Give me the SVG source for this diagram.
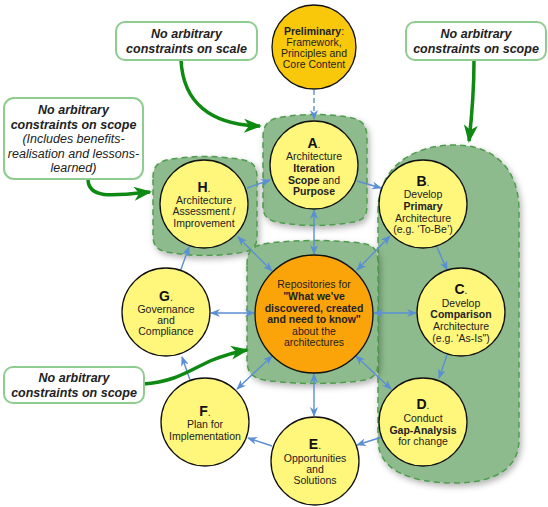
<svg xmlns="http://www.w3.org/2000/svg" width="548" height="507" viewBox="0 0 548 507">
<defs>
  <filter id="sh" x="-20%" y="-20%" width="140%" height="140%">
    <feDropShadow dx="2" dy="3" stdDeviation="3" flood-color="#000" flood-opacity="0.3"/>
  </filter>
  <marker id="ba" viewBox="0 0 10 8" refX="9" refY="4" markerWidth="10" markerHeight="8" markerUnits="userSpaceOnUse" orient="auto-start-reverse">
    <path d="M0,0 L10,4 L0,8 L3,4 Z" fill="#5b8fd4"/>
  </marker>
  <marker id="ga" viewBox="0 0 18 14" refX="16" refY="7" markerWidth="18" markerHeight="14" markerUnits="userSpaceOnUse" orient="auto">
    <path d="M0,0 L18,7 L0,14 L5,7 Z" fill="#0e8a12"/>
  </marker>
  <style>
    .reg{fill:#8dbb8d;stroke:#4f9c4f;stroke-width:1.5;stroke-dasharray:6 4;filter:url(#sh)}
    .nd{fill:#fff67c;stroke:#111;stroke-width:1.3}
    .pre{fill:#f9c80a;stroke:#111;stroke-width:1.3}
    .ctr{fill:#fba40a;stroke:#111;stroke-width:1.3}
    text{font-family:"Liberation Sans",Arial,Helvetica,sans-serif;fill:#222;text-anchor:middle}
    .t{font-size:10.5px}
    .b{font-weight:bold}
    .L{font-weight:bold;font-size:14px;fill:#111}
    .co{fill:#fff;stroke:#8fcc8f;stroke-width:2}
    .ct{font-size:12.5px;font-style:italic}
    .blue{fill:none;stroke:#5b8fd4;stroke-width:1.4}
    .grn{fill:none;stroke:#0e8a12;stroke-width:3.5}
  </style>
</defs>

<g id="regions">
  <path class="reg" d="M378 212 C378 165 415 145 455 145 C495 145 519 170 519 210 L519 440 C519 468 495 483 455 483 C410 483 378 470 378 440 Z"/>
  <path class="reg" d="M263 138 C263 120 272 118 290 116 C305 114 325 114 340 116 C360 118 367 122 367 138 L367 206 C367 220 360 222 340 224 C325 226 305 226 290 224 C272 222 263 220 263 206 Z"/>
  <path class="reg" d="M153 178 C153 162 162 160 180 158 C195 156 215 156 230 158 C250 160 257 162 257 178 L257 236 C257 250 250 252 230 254 C215 256 195 256 180 254 C162 252 153 250 153 236 Z"/>
  <path class="reg" d="M247 265 C247 245 258 244 280 242 C300 240 330 240 350 242 C372 244 378 245 378 265 L378 360 C378 378 372 380 350 382 C330 384 300 384 280 382 C258 380 247 378 247 360 Z"/>
</g>

<g id="connectors">
  <line class="blue" x1="314" y1="90" x2="314" y2="119" stroke-dasharray="5 3" marker-end="url(#ba)"/>
  <line class="blue" x1="247" y1="188" x2="270" y2="180" marker-end="url(#ba)"/>
  <line class="blue" x1="357" y1="181" x2="381" y2="188" marker-end="url(#ba)"/>
  <line class="blue" x1="437" y1="247" x2="447" y2="270" marker-end="url(#ba)"/>
  <line class="blue" x1="447" y1="355" x2="439" y2="378" marker-end="url(#ba)"/>
  <line class="blue" x1="382" y1="437" x2="357" y2="445" marker-end="url(#ba)"/>
  <line class="blue" x1="272" y1="446" x2="248" y2="438" marker-end="url(#ba)"/>
  <line class="blue" x1="190" y1="380" x2="182" y2="357" marker-end="url(#ba)"/>
  <line class="blue" x1="180" y1="272" x2="189" y2="247" marker-end="url(#ba)"/>
  <line class="blue" x1="314" y1="210" x2="314" y2="254" marker-start="url(#ba)" marker-end="url(#ba)"/>
  <line class="blue" x1="238" y1="237" x2="272" y2="271" marker-start="url(#ba)" marker-end="url(#ba)"/>
  <line class="blue" x1="390" y1="236" x2="357" y2="270" marker-start="url(#ba)" marker-end="url(#ba)"/>
  <line class="blue" x1="211" y1="313" x2="254" y2="313" marker-start="url(#ba)" marker-end="url(#ba)"/>
  <line class="blue" x1="374" y1="313" x2="416" y2="313" marker-start="url(#ba)" marker-end="url(#ba)"/>
  <line class="blue" x1="237" y1="389" x2="272" y2="356" marker-start="url(#ba)" marker-end="url(#ba)"/>
  <line class="blue" x1="356" y1="356" x2="391" y2="389" marker-start="url(#ba)" marker-end="url(#ba)"/>
  <line class="blue" x1="314" y1="374" x2="314" y2="416" marker-start="url(#ba)" marker-end="url(#ba)"/>
  <path class="grn" d="M181 60 C183 102 210 125 260 126" marker-end="url(#ga)"/>
  <path class="grn" d="M88 179 C88 199 112 196 150 192" marker-end="url(#ga)"/>
  <path class="grn" d="M474 60 C474 90 472 115 469 141" marker-end="url(#ga)"/>
  <path class="grn" d="M143 384 C175 382 190 370 210 361 C225 355 235 352 247 350" marker-end="url(#ga)"/>
</g>

<g id="pre">
  <circle class="pre" cx="314" cy="47" r="42"/>
  <text class="t" x="314" y="35"><tspan class="b">Preliminary</tspan>:</text>
  <text class="t" x="314" y="46">Framework,</text>
  <text class="t" x="314" y="57">Principles and</text>
  <text class="t" x="314" y="68">Core Content</text>
</g>

<g id="nodeA">
  <circle class="nd" cx="314" cy="165" r="44"/>
  <text class="t" x="314" y="148"><tspan class="L">A</tspan>.</text>
  <text class="t" x="314" y="160">Architecture</text>
  <text class="t b" x="314" y="172">Iteration</text>
  <text class="t" x="314" y="183.5"><tspan class="b">Scope</tspan> and</text>
  <text class="t b" x="314" y="195">Purpose</text>
</g>

<g id="nodeB">
  <circle class="nd" cx="423" cy="204" r="44"/>
  <text class="t" x="423" y="186"><tspan class="L">B</tspan>.</text>
  <text class="t" x="423" y="197.5">Develop</text>
  <text class="t b" x="423" y="210">Primary</text>
  <text class="t" x="423" y="221.5">Architecture</text>
  <text class="t" x="423" y="233">(e.g. ‘To-Be’)</text>
</g>

<g id="nodeC">
  <circle class="nd" cx="461" cy="312" r="44"/>
  <text class="t" x="461" y="294"><tspan class="L">C</tspan>.</text>
  <text class="t" x="461" y="306.5">Develop</text>
  <text class="t b" x="461" y="318">Comparison</text>
  <text class="t" x="461" y="330">Architecture</text>
  <text class="t" x="461" y="341.5">(e.g. ‘As-Is")</text>
</g>

<g id="nodeD">
  <circle class="nd" cx="423" cy="422" r="44"/>
  <text class="t" x="423" y="409"><tspan class="L">D</tspan>.</text>
  <text class="t" x="423" y="422">Conduct</text>
  <text class="t b" x="423" y="433.5">Gap-Analysis</text>
  <text class="t" x="423" y="445">for change</text>
</g>

<g id="nodeE">
  <circle class="nd" cx="315" cy="461" r="44"/>
  <text class="t" x="315" y="449"><tspan class="L">E</tspan>.</text>
  <text class="t" x="315" y="461.5">Opportunities</text>
  <text class="t" x="315" y="472.5">and</text>
  <text class="t" x="315" y="483.5">Solutions</text>
</g>

<g id="nodeF">
  <circle class="nd" cx="205" cy="422" r="44"/>
  <text class="t" x="205" y="416"><tspan class="L">F</tspan>.</text>
  <text class="t" x="205" y="428">Plan for</text>
  <text class="t" x="205" y="439.5">Implementation</text>
</g>

<g id="nodeG">
  <circle class="nd" cx="166" cy="312" r="44"/>
  <text class="t" x="166" y="301"><tspan class="L">G</tspan>.</text>
  <text class="t" x="166" y="313">Governance</text>
  <text class="t" x="166" y="324">and</text>
  <text class="t" x="166" y="335">Compliance</text>
</g>

<g id="nodeH">
  <circle class="nd" cx="204" cy="204" r="44"/>
  <text class="t" x="204" y="192"><tspan class="L">H</tspan>.</text>
  <text class="t" x="204" y="203.5">Architecture</text>
  <text class="t" x="204" y="215">Assessment /</text>
  <text class="t" x="204" y="226.5">Improvement</text>
</g>

<g id="repo">
  <circle class="ctr" cx="314" cy="314" r="59"/>
  <text class="t" x="314" y="288">Repositories for</text>
  <text class="t b" x="314" y="300" font-size="11">"What we've</text>
  <text class="t b" x="314" y="311.5" font-size="11">discovered, created</text>
  <text class="t b" x="314" y="323" font-size="11">and need to know"</text>
  <text class="t" x="314" y="334.5">about the</text>
  <text class="t" x="314" y="345.5">architectures</text>
</g>

<g id="callout-scale">
  <rect class="co" x="116" y="22" width="141" height="38" rx="9"/>
  <text class="ct b" x="186.5" y="38">No arbitrary</text>
  <text class="ct b" x="186.5" y="52.5">constraints on scale</text>
</g>

<g id="callout-scope-right">
  <rect class="co" x="406" y="22" width="140" height="38" rx="9"/>
  <text class="ct b" x="476" y="38">No arbitrary</text>
  <text class="ct b" x="476" y="52.5">constraints on scope</text>
</g>

<g id="callout-scope-left">
  <rect class="co" x="4" y="98" width="139" height="81" rx="10"/>
  <text class="ct b" x="73.5" y="114">No arbitrary</text>
  <text class="ct b" x="73.5" y="128.5">constraints on scope</text>
  <text class="ct" x="73.5" y="143">(Includes benefits-</text>
  <text class="ct" x="73.5" y="157.5">realisation and lessons-</text>
  <text class="ct" x="73.5" y="172">learned)</text>
</g>

<g id="callout-scope-bottom">
  <rect class="co" x="4" y="367" width="140" height="36" rx="9"/>
  <text class="ct b" x="74" y="382">No arbitrary</text>
  <text class="ct b" x="74" y="397">constraints on scope</text>
</g>
</svg>
